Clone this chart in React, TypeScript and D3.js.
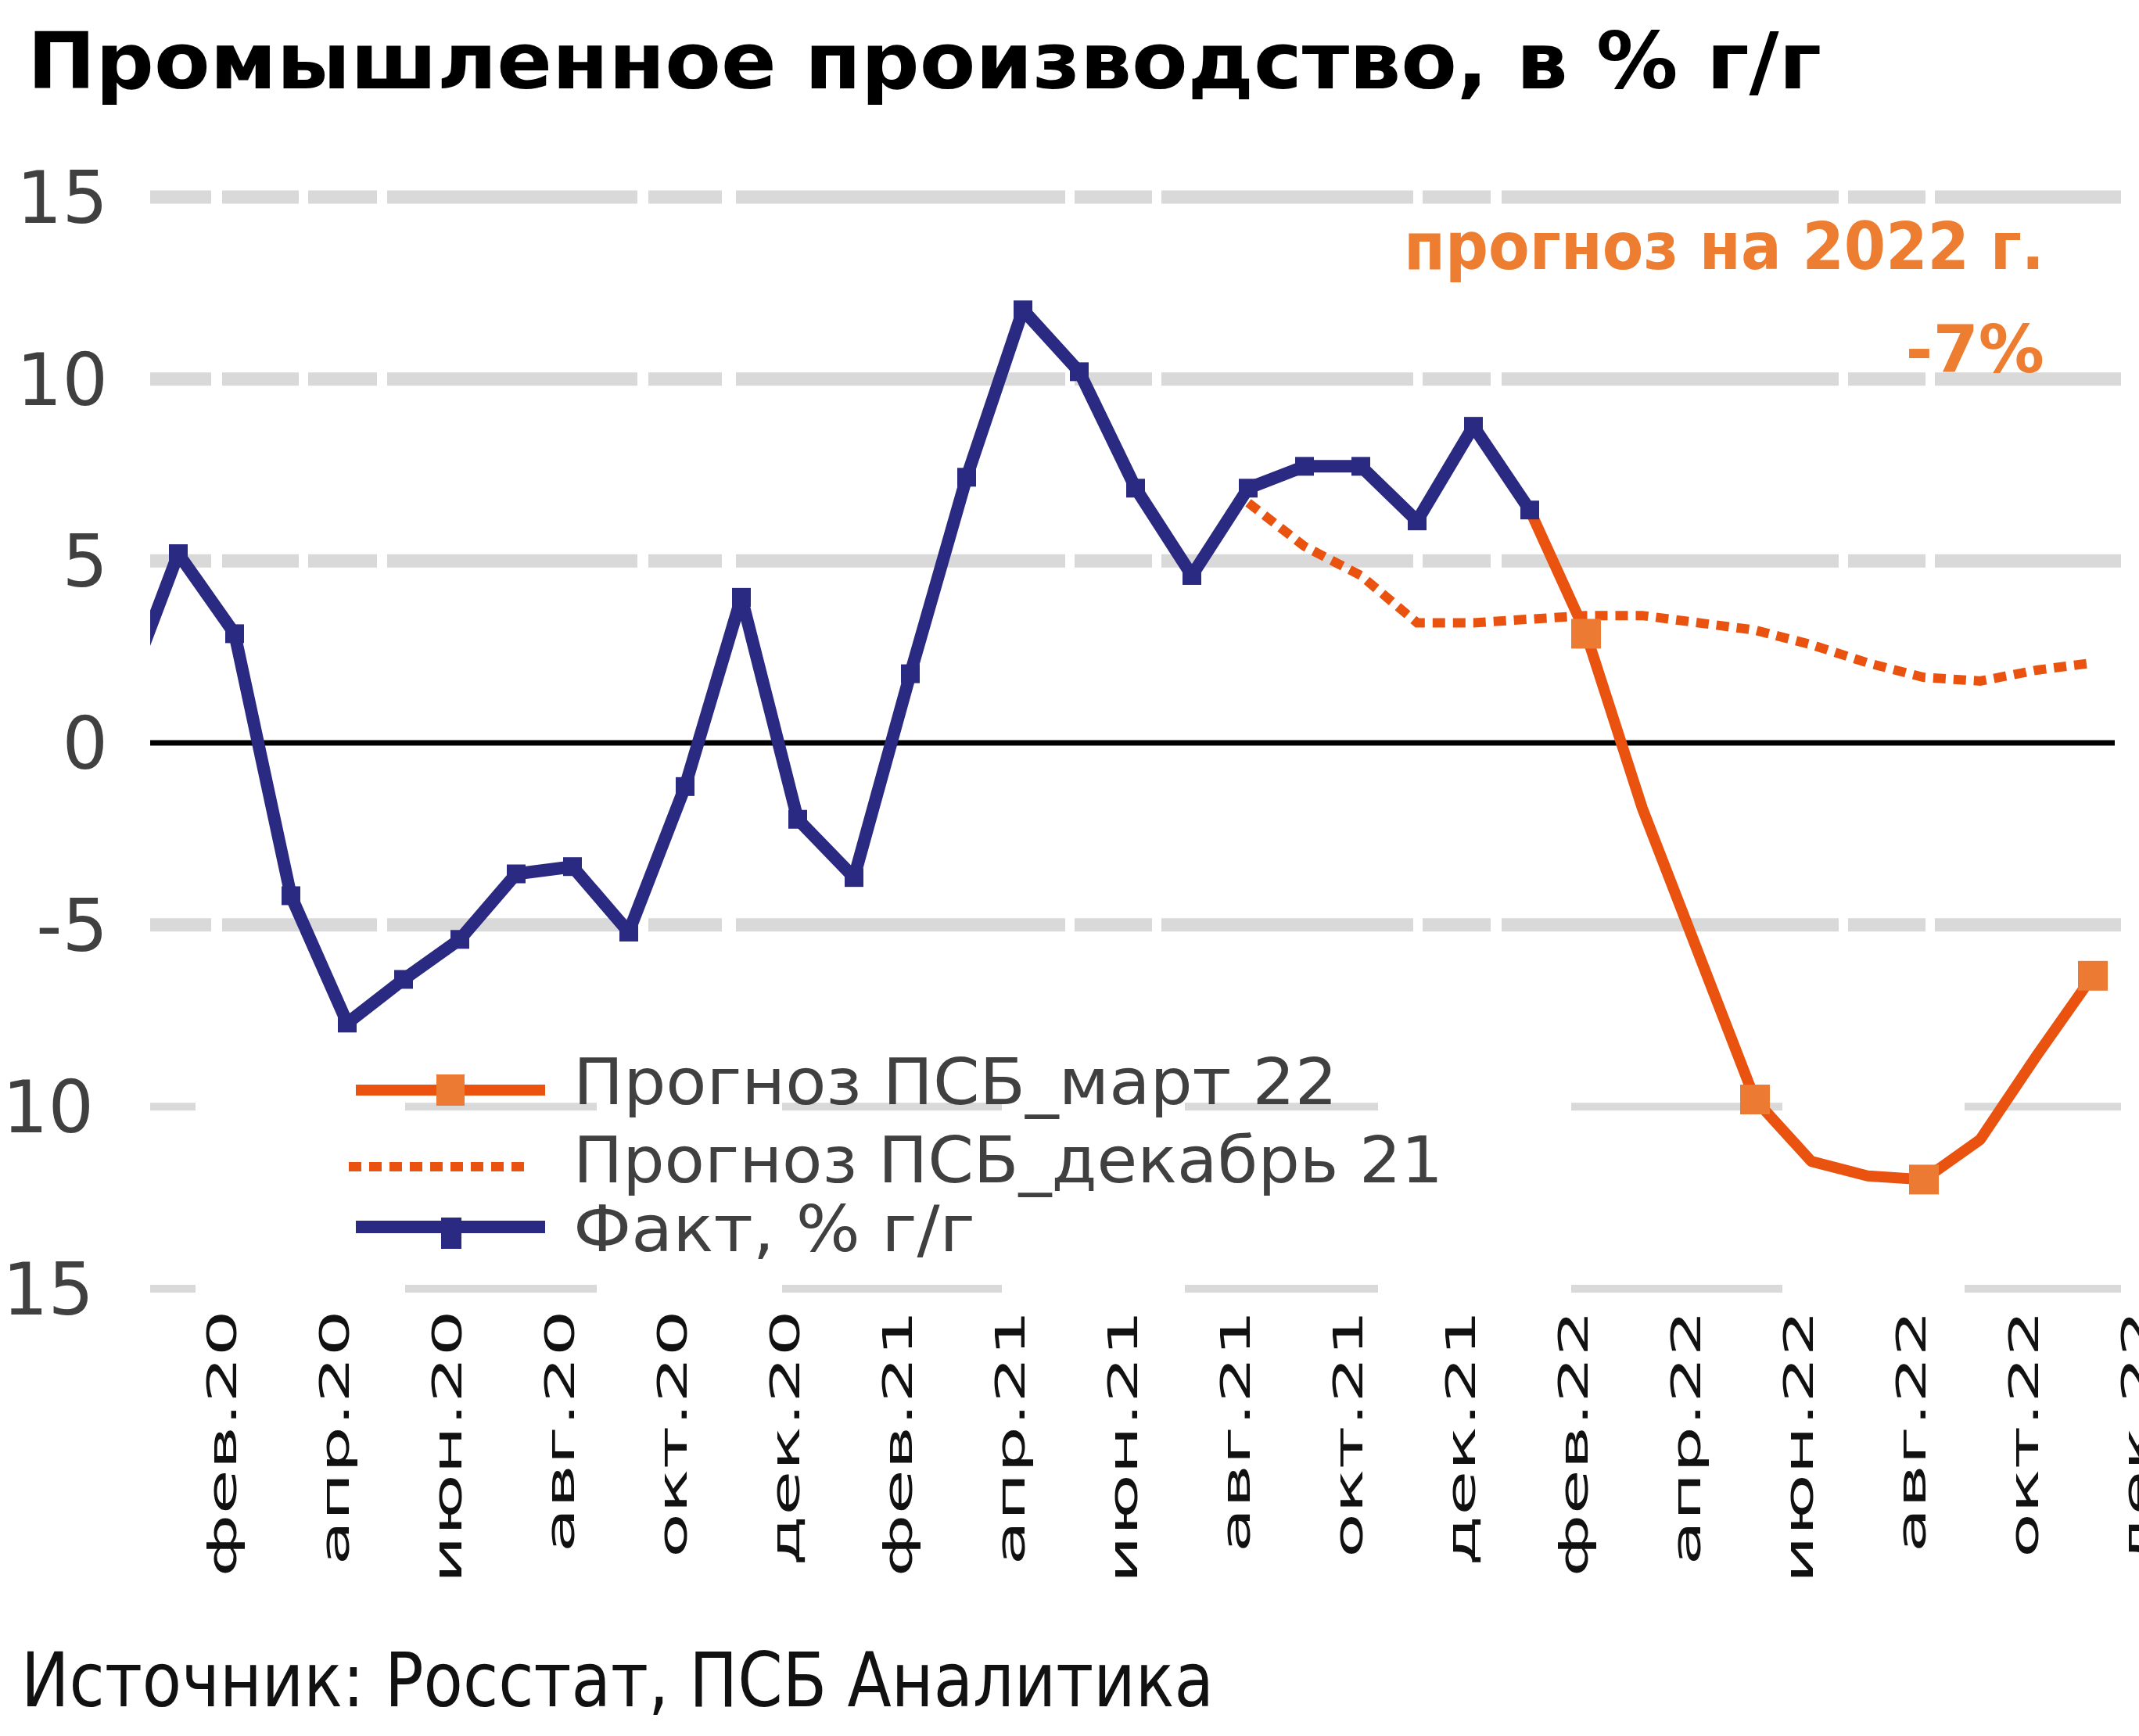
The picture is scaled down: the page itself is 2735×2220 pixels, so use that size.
import React from 'react';
import * as d3 from 'd3';

// ---- data ----
const months = [
  'янв.20', 'фев.20', 'мар.20', 'апр.20', 'май.20', 'июн.20', 'июл.20', 'авг.20', 'сен.20', 'окт.20', 'ноя.20', 'дек.20',
  'янв.21', 'фев.21', 'мар.21', 'апр.21', 'май.21', 'июн.21', 'июл.21', 'авг.21', 'сен.21', 'окт.21', 'ноя.21', 'дек.21',
  'янв.22', 'фев.22', 'мар.22', 'апр.22', 'май.22', 'июн.22', 'июл.22', 'авг.22', 'сен.22', 'окт.22', 'ноя.22', 'дек.22',
];

const factStart = 'янв.20';
const factValues = [1.1, 5.2, 3.0, -4.2, -7.7, -6.5, -5.4, -3.6, -3.4, -5.2, -1.2, 4.0, -2.1, -3.7, 1.9, 7.3, 11.9, 10.2, 7.0, 4.6, 7.0, 7.6, 7.6, 6.1, 8.7, 6.4];

const marchStart = 'фев.22';
const marchValues = [6.4, 3.0, -1.8, -5.8, -9.8, -11.5, -11.9, -12.0, -10.9, -8.6, -6.4];
const marchMarkers = ['мар.22', 'июн.22', 'сен.22', 'дек.22'];

const decStart = 'сен.21';
const decValues = [6.6, 5.4, 4.6, 3.3, 3.3, 3.4, 3.5, 3.5, 3.3, 3.1, 2.7, 2.2, 1.8, 1.7, 2.0, 2.2];

const xTickLabels = ['фев.20', 'апр.20', 'июн.20', 'авг.20', 'окт.20', 'дек.20', 'фев.21', 'апр.21', 'июн.21', 'авг.21', 'окт.21', 'дек.21', 'фев.22', 'апр.22', 'июн.22', 'авг.22', 'окт.22', 'дек.22'];
const yTicks = [15, 10, 5, 0, -5, -10, -15];

const title = 'Промышленное производство, в % г/г';
const noteLine1 = 'прогноз на 2022 г.';
const noteLine2 = '-7%';
const legendMarch = 'Прогноз ПСБ_март 22';
const legendDec = 'Прогноз ПСБ_декабрь 21';
const legendFact = 'Факт, % г/г';
const source = 'Источник:  Росстат, ПСБ Аналитика';

// ---- styles ----
const NAVY = '#2A2A82';
const ORANGE = '#E9530F';
const ORANGE_MK = '#EC7A32';
const GRID = '#D9D9D9';
const FONT = '"DejaVu Sans", Verdana, sans-serif';
const GRID_DASH_UPPER = '78 14 98 12 88 13 320 14 94 18 421 12 99 12 322 12 87 14 431 12 99 12 239 60';
const GRID_DASH_LOWER = '58 268 245 237 281 234 247 247 270 233 201 60';

type P = { i: number; v: number };
const toPts = (start: string, vals: number[]): P[] =>
  vals.map((v, k) => ({ i: months.indexOf(start) + k, v }));

export default function App() {
  const W = 2735;
  const H = 2220;
  const x = d3.scaleLinear().domain([0.5, 35.5]).range([192, 2712]);
  const y = d3.scaleLinear().domain([-15, 15]).range([1648, 252]);
  const line = d3.line<P>().x((d) => x(d.i)).y((d) => y(d.v));

  const fact = toPts(factStart, factValues);
  const march = toPts(marchStart, marchValues);
  const dec = toPts(decStart, decValues);
  const marchMk = march.filter((p) => marchMarkers.includes(months[p.i]));

  const [x0, x1] = x.range();

  const legendRows = [
    { label: legendMarch, kind: 'march', ly: 1394, ty: 1412, len: 977 },
    { label: legendDec, kind: 'dec', ly: 1492, ty: 1512, len: 1112 },
    { label: legendFact, kind: 'fact', ly: 1569, ty: 1600, len: 514 },
  ];

  return (
    <svg width={W} height={H} style={{ position: 'absolute', left: 0, top: 0, background: '#fff' }} fontFamily={FONT}>
      <defs>
        <clipPath id="plot">
          <rect x={x0} y={0} width={x1 - x0} height={H} />
        </clipPath>
      </defs>
      <rect width={W} height={H} fill="#fff" />

      {/* title */}
      <text x={35} y={113} fontSize={100} fontWeight="bold" fill="#000" textLength={2294} lengthAdjust="spacingAndGlyphs">
        {title}
      </text>

      {/* gridlines */}
      {yTicks.filter((t) => t !== 0).map((t) => (
        <line
          key={'g' + t}
          x1={x0}
          x2={x1}
          y1={y(t)}
          y2={y(t)}
          stroke={GRID}
          strokeWidth={t <= -10 ? 10 : 17}
          strokeDasharray={t <= -10 ? GRID_DASH_LOWER : GRID_DASH_UPPER}
        />
      ))}

      {/* y labels */}
      {yTicks.map((t) => (
        <text key={'yl' + t} x={t <= -10 ? 120 : 138} y={y(t) + 33} fontSize={92} fill="#404040" textAnchor="end">
          {t}
        </text>
      ))}

      {/* zero line */}
      <line x1={x0} x2={x1 - 8} y1={y(0)} y2={y(0)} stroke="#000" strokeWidth={7} />

      {/* x labels */}
      {xTickLabels.map((lab) => {
        const cx = x(months.indexOf(lab)) + 55;
        return (
          <text
            key={'xl' + lab}
            transform={`translate(${cx + 19},1675) rotate(-90) scale(1.8,1)`}
            fontSize={52}
            fill="#111"
            textAnchor="end"
          >
            {lab}
          </text>
        );
      })}

      {/* series */}
      <g clipPath="url(#plot)">
        <path d={line(dec) || ''} fill="none" stroke={ORANGE} strokeWidth={12} strokeDasharray="16 10" />
        <path d={line(march) || ''} fill="none" stroke={ORANGE} strokeWidth={14} strokeLinejoin="round" />
        {marchMk.map((p) => (
          <rect key={'mm' + p.i} x={x(p.i) - 19} y={y(p.v) - 19} width={38} height={38} fill={ORANGE_MK} />
        ))}
        <path d={line(fact) || ''} fill="none" stroke={NAVY} strokeWidth={16} strokeLinejoin="round" />
        {fact.map((p) => (
          <rect key={'fm' + p.i} x={x(p.i) - 12} y={y(p.v) - 12} width={24} height={24} fill={NAVY} />
        ))}
      </g>

      {/* annotation */}
      <text x={2614} y={344} fontSize={84} fontWeight="bold" fill="#ED7D31" textAnchor="end" textLength={819} lengthAdjust="spacingAndGlyphs">
        {noteLine1}
      </text>
      <text x={2614} y={476} fontSize={84} fontWeight="bold" fill="#ED7D31" textAnchor="end">
        {noteLine2}
      </text>

      {/* legend */}
      {legendRows.map((r) => (
        <g key={r.kind}>
          {r.kind === 'march' && (
            <>
              <line x1={455} x2={697} y1={r.ly} y2={r.ly} stroke={ORANGE} strokeWidth={14} />
              <rect x={558} y={r.ly - 20} width={36} height={40} fill={ORANGE_MK} />
            </>
          )}
          {r.kind === 'dec' && (
            <line x1={446} x2={674} y1={r.ly} y2={r.ly} stroke={ORANGE} strokeWidth={12} strokeDasharray="16 10" />
          )}
          {r.kind === 'fact' && (
            <>
              <line x1={455} x2={697} y1={r.ly} y2={r.ly} stroke={NAVY} strokeWidth={16} />
              <rect x={564} y={r.ly - 12} width={26} height={40} fill={NAVY} />
            </>
          )}
          <text x={733} y={r.ty} fontSize={82} fill="#404040" textLength={r.len} lengthAdjust="spacingAndGlyphs">
            {r.label}
          </text>
        </g>
      ))}

      {/* source */}
      <text x={27} y={2182} fontSize={96} fill="#111" textLength={1525} lengthAdjust="spacingAndGlyphs">
        {source}
      </text>
    </svg>
  );
}
